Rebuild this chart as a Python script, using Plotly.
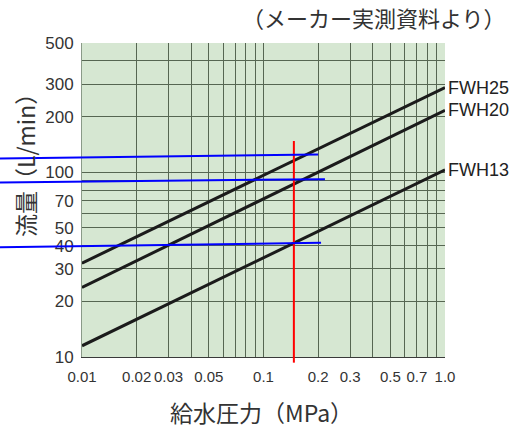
import math
import plotly.graph_objects as go

# ---- data ----
pressure_ends = [0.01, 1.0]
fwh25 = [32.2, 287]
fwh20 = [23.8, 216]
fwh13 = [11.5, 103]
series = [("FWH25", fwh25), ("FWH20", fwh20), ("FWH13", fwh13)]

x_tick_vals = [0.01, 0.02, 0.03, 0.04, 0.05, 0.06, 0.07, 0.08, 0.09,
               0.1, 0.2, 0.3, 0.4, 0.5, 0.6, 0.7, 0.8, 0.9, 1.0]
x_tick_text = ["0.01", "0.02", "0.03", "", "0.05", "", "", "", "",
               "0.1", "0.2", "0.3", "", "0.5", "", "0.7", "", "", "1.0"]
y_tick_vals = [10, 20, 30, 40, 50, 60, 70, 80, 90, 100, 200, 300, 400, 500]
y_tick_text = ["10", "20", "30", "40", "50", "", "70", "", "", "100", "200", "300", "", "500"]

read_pressure = 0.147
red_top = 147.5
blue_left = [118.6, 88.0, 39.2]
blue_right = [124.7, 91.7, 41.5]
blue_end_pressure = [0.200, 0.218, 0.2075]

# ---- layout constants ----
W, H = 516, 429
ML, MR, MT, MB = 82, 71, 43, 72
PW = W - ML - MR
PH = H - MT - MB
XR = [math.log10(0.01), math.log10(1.0)]
YR = [math.log10(10), math.log10(500)]

def xpaper(v):
    return (math.log10(v) - XR[0]) / (XR[1] - XR[0])

def ypaper(v):
    return (math.log10(v) - YR[0]) / (YR[1] - YR[0])

TXT = "#333333"
SANS = "Liberation Sans, Arial, sans-serif"

fig = go.Figure()
for name, vals in series:
    fig.add_trace(go.Scatter(x=pressure_ends, y=vals, mode="lines", name=name,
                             line=dict(color="#1b1b1b", width=3), showlegend=False,
                             hoverinfo="skip"))
    fig.add_annotation(x=math.log10(pressure_ends[-1]), y=math.log10(vals[-1]),
                       xref="x", yref="y", text=name, showarrow=False,
                       xanchor="left", yanchor="middle", xshift=1,
                       font=dict(family=SANS, size=18, color="#222222"))

# red reading line
fig.add_shape(type="line", xref="x", yref="paper",
              x0=read_pressure, x1=read_pressure, y0=-0.018, y1=ypaper(red_top),
              line=dict(color="#ff0000", width=2))

# blue reading lines
for yl, yr, xe in zip(blue_left, blue_right, blue_end_pressure):
    fig.add_shape(type="line", xref="paper", yref="y",
                  x0=-ML / PW, x1=xpaper(xe), y0=yl, y1=yr,
                  line=dict(color="#0000ff", width=2))

GRID = "#566652"
fig.update_xaxes(type="log", range=XR, tickvals=x_tick_vals, ticktext=x_tick_text,
                 showgrid=True, gridcolor=GRID, gridwidth=1, zeroline=False,
                 showline=True, linecolor="#3a3a3a", linewidth=1,
                 ticks="", ticklabelstandoff=6, tickangle=0, automargin=False,
                 tickfont=dict(family=SANS, size=15, color=TXT))
fig.update_yaxes(type="log", range=YR, tickvals=y_tick_vals, ticktext=y_tick_text,
                 showgrid=True, gridcolor=GRID, gridwidth=1, zeroline=False,
                 showline=True, linecolor="#8a9a88", linewidth=1,
                 ticks="", ticklabelstandoff=4, automargin=False,
                 tickfont=dict(family=SANS, size=17, color=TXT))

fig.add_annotation(xref="paper", yref="paper", x=(261 - ML) / PW, y=(MT + PH - 411.7) / PH,
                   text="給水圧力（MPa）", showarrow=False, xanchor="center", yanchor="middle",
                   font=dict(family="Noto Sans CJK JP", size=23, color=TXT))
fig.add_annotation(xref="paper", yref="paper", x=(25 - ML) / PW, y=(MT + PH - 160) / PH,
                   text="流量（L/min）", textangle=-90, showarrow=False,
                   xanchor="center", yanchor="middle",
                   font=dict(family="Noto Sans CJK JP", size=23, color=TXT))
fig.add_annotation(xref="paper", yref="paper", x=(508 - ML) / PW, y=(MT + PH - 17) / PH,
                   text="（メーカー実測資料より）", showarrow=False,
                   xanchor="right", yanchor="middle",
                   font=dict(family="Noto Sans CJK JP", size=22, color=TXT))

fig.update_layout(width=W, height=H, margin=dict(l=ML, r=MR, t=MT, b=MB, autoexpand=False),
                  plot_bgcolor="#d6e7d2", paper_bgcolor="white", showlegend=False)

fig.write_html("out.html", config={"displayModeBar": False},
               post_script="document.body.style.margin='0';")
